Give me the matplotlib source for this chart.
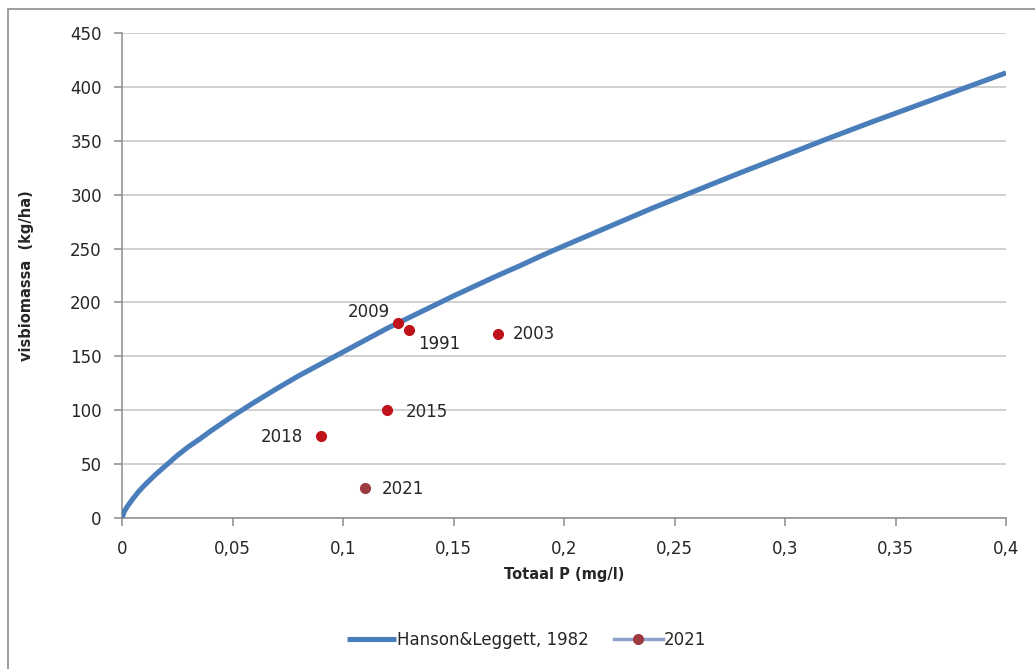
import matplotlib as mpl
mpl.use('Agg')
import matplotlib.pyplot as plt
from matplotlib.patches import Rectangle
from matplotlib.ticker import FuncFormatter

mpl.rcParams['font.family'] = 'DejaVu Sans'
mpl.rcParams['font.size'] = 12

# Hanson & Leggett (1982) reference curve, total P (mg/l) vs fish biomass (kg/ha)
curve_p = [0, 0.001, 0.0025, 0.005, 0.0075, 0.01, 0.015, 0.02, 0.025, 0.03, 0.035,
           0.04, 0.045, 0.05, 0.06, 0.07, 0.08, 0.09, 0.1, 0.11, 0.12, 0.13, 0.14,
           0.15, 0.16, 0.17, 0.18, 0.19, 0.2, 0.22, 0.24, 0.26, 0.28, 0.3, 0.32,
           0.34, 0.36, 0.38, 0.4]
curve_biomass = [0, 6, 11, 18, 24.5, 30, 40, 49, 58, 66, 73,
                 80.5, 87.5, 94.5, 107.5, 120, 132, 143, 154, 165, 176, 186, 196,
                 206, 215.5, 225, 234, 243.5, 252.5, 270, 287.5, 304, 320.5, 336.5, 352.5,
                 368, 383, 398, 413]

# survey years
years = ['1991', '2003', '2009', '2015', '2018']
years_p = [0.13, 0.17, 0.125, 0.12, 0.09]
years_biomass = [174, 171, 181, 100, 76]

survey_2021_p = [0.11]
survey_2021_biomass = [28]

# label offsets in points and alignment per year
label_style = {
    '1991': ((6, -10), 'left'),
    '2003': ((11, 0), 'left'),
    '2009': ((-6, 8), 'right'),
    '2015': ((13, -1), 'left'),
    '2018': ((-13, -1), 'right'),
}

GRID = '#c4c4c4'
AXIS = '#8c8c8c'
TEXT = '#262626'


def comma_format(x, pos):
    s = '{:g}'.format(round(x, 3))
    return s.replace('.', ',')


fig = plt.figure(figsize=(10.35, 6.69), dpi=100)
ax = fig.add_axes([122 / 1035, 151 / 669, 884 / 1035, 485 / 669])

fig.patches.append(Rectangle((8 / 1035, -0.02), 1.1, (669 - 9) / 669 + 0.02,
                             transform=fig.transFigure, fill=False,
                             edgecolor=AXIS, linewidth=1.2))

ax.plot(curve_p, curve_biomass, color='#4a7ebb', linewidth=3.7,
        solid_capstyle='butt', solid_joinstyle='round',
        label='Hanson&Leggett, 1982', zorder=3)
ax.plot(years_p, years_biomass, linestyle='none', marker='o', markersize=7,
        color='#c0121a', label='_nolegend_', zorder=4)
ax.plot(survey_2021_p, survey_2021_biomass, color='#8ea3cb', linewidth=2.5,
        marker='o', markersize=7, markerfacecolor='#9c3a40',
        markeredgecolor='#9c3a40', label='2021', zorder=4)

for year, p, b in zip(years, years_p, years_biomass):
    offset, ha = label_style[year]
    ax.annotate(year, (p, b), xytext=offset, textcoords='offset points',
                ha=ha, va='center', fontsize=12, color=TEXT)
ax.annotate('2021', (survey_2021_p[0], survey_2021_biomass[0]), xytext=(12, -1),
            textcoords='offset points', ha='left', va='center', fontsize=12, color=TEXT)

ax.set_xlim(0, 0.4)
ax.set_ylim(0, 450)
ax.set_xticks([0, 0.05, 0.1, 0.15, 0.2, 0.25, 0.3, 0.35, 0.4])
ax.set_yticks(range(0, 451, 50))
ax.xaxis.set_major_formatter(FuncFormatter(comma_format))
ax.yaxis.grid(True, color=GRID, linewidth=1.1)
ax.set_axisbelow(True)

for side in ('top', 'right'):
    ax.spines[side].set_visible(False)
for side in ('left', 'bottom'):
    ax.spines[side].set_color(AXIS)
    ax.spines[side].set_linewidth(1.1)
ax.tick_params(axis='both', direction='out', length=5.5, width=1.1, color=AXIS,
               labelcolor=TEXT, labelsize=12)
ax.tick_params(axis='y', pad=9)
ax.tick_params(axis='x', pad=10)

ax.set_xlabel('Totaal P (mg/l)', fontweight='bold', fontsize=10.5, color=TEXT, va='top')
ax.xaxis.set_label_coords(0.5, -0.102)
ax.set_ylabel('visbiomassa  (kg/ha)', fontweight='bold', fontsize=10.5, color=TEXT)
ax.yaxis.set_label_coords(-0.099, 0.5)

fig.legend(loc='center', bbox_to_anchor=(527 / 1035, 29 / 669), ncol=2, frameon=False,
           fontsize=12, handlelength=2.9, handletextpad=0.1, columnspacing=1.5,
           labelcolor=TEXT)

fig.savefig('out.png', dpi=100)
plt.close(fig)
